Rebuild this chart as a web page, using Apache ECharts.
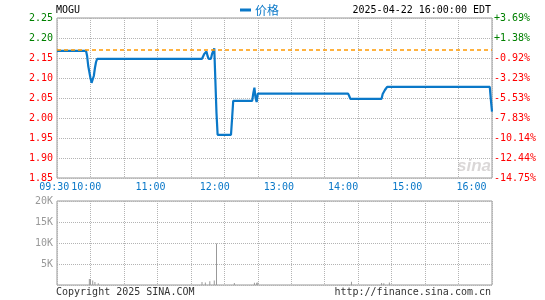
<!DOCTYPE html>
<html>
<head>
<meta charset="utf-8">
<script src="https://cdn.jsdelivr.net/npm/echarts@6/dist/echarts.min.js"></script>
<style>html,body{margin:0;padding:0;background:#fff;}#c{width:545px;height:300px;}</style>
</head>
<body>
<div id="c"></div>
<script>
// ---- data ----
const symbol = 'MOGU';
const stamp = '2025-04-22 16:00:00 EDT';
const prevClose = 2.17;
const priceTimes = ['09:30','09:56','09:57','09:58','09:59','10:00','10:01','10:02','10:03','10:04','10:05','10:06',
  '11:40','11:41','11:42','11:44','11:45','11:46','11:48','11:49','11:51','11:52','11:53','11:54',
  '12:06','12:07','12:08','12:25','12:26','12:27','12:28','12:29','12:30',
  '13:51','13:52','13:53','14:21','14:22','14:23','14:24','14:25','14:26','15:58','15:59','16:00'];
const prices = [2.168,2.168,2.155,2.13,2.115,2.10,2.088,2.092,2.105,2.125,2.14,2.148,
  2.148,2.145,2.16,2.166,2.155,2.148,2.148,2.16,2.174,2.174,2.012,1.958,
  1.958,2.0,2.043,2.043,2.062,2.076,2.05,2.04,2.061,
  2.061,2.055,2.048,2.048,2.06,2.065,2.07,2.072,2.078,2.078,2.045,2.016];
const volTimes = ['09:59','10:00','10:02','10:04','10:07','11:40','11:43','11:47','11:51','11:53','12:09','12:27','12:29','12:30','13:54','14:21','14:23','14:28'];
const volumes  = [1400,1450,1100,700,400,700,600,900,1100,9900,500,550,550,600,750,500,400,600];
const priceTicks = ['1.85','1.90','1.95','2.00','2.05','2.10','2.15','2.20','2.25'];
const pctTicks = ['-14.75%','-12.44%','-10.14%','-7.83%','-5.53%','-3.23%','-0.92%','+1.38%','+3.69%'];
const volTicks = ['','5K','10K','15K','20K'];
const timeTicks = ['09:30','10:00','11:00','12:00','13:00','14:00','15:00','16:00'];

// ---- helpers ----
const mono = "'DejaVu Sans Mono', 'Liberation Mono', monospace";
const toMin = t => { const [h, m] = t.split(':').map(Number); return h * 60 + m - (9 * 60 + 30); };
const priceData = priceTimes.map((t, i) => [toMin(t), prices[i]]);
const volData = volTimes.map((t, i) => [toMin(t), volumes[i]]);
const idx = (v, lo, step) => Math.round((v - lo) / step);
const green = '#008000', red = '#ff0000', blue = '#0a78c8', grey = '#999';
const dotted = { color: '#b4b4b4', width: 1, type: [1, 1] };

const chart = echarts.init(document.getElementById('c'), null, { renderer: 'canvas' });
chart.setOption({
  animation: false,
  title: [
    { text: symbol, left: 56, top: 5, padding: 0, textStyle: { fontFamily: mono, fontSize: 10, fontWeight: 'normal', color: '#000' } },
    { text: stamp, right: 54, top: 5, padding: 0, textStyle: { fontFamily: mono, fontSize: 10, fontWeight: 'normal', color: '#000' } },
    { text: 'Copyright 2025 SINA.COM', left: 56, top: 287, padding: 0, textStyle: { fontFamily: mono, fontSize: 10, fontWeight: 'normal', color: '#333' } },
    { text: 'http://finance.sina.com.cn', right: 54, top: 287, padding: 0, textStyle: { fontFamily: mono, fontSize: 10, fontWeight: 'normal', color: '#333' } }
  ],
  legend: {
    data: ['价格'], left: 240, top: 4, padding: 0, icon: 'rect', itemWidth: 11, itemHeight: 3, itemGap: 4,
    textStyle: { color: blue, fontSize: 12, fontFamily: "'Noto Sans CJK SC', sans-serif", padding: [0, 0, 0, -1] }
  },
  graphic: [
    { type: 'text', right: 54, top: 158, z: 0, style: { text: 'sina', font: 'italic bold 17px sans-serif', fill: 'rgba(150,140,140,0.35)' } }
  ],
  grid: [
    { left: 57, top: 18, width: 435, height: 160, show: true, borderColor: grey, borderWidth: 1 },
    { left: 57, top: 201, width: 435, height: 84, show: true, borderColor: grey, borderWidth: 1 },
    { left: 22.1, top: 18, width: 449.4, height: 160, show: false }
  ],
  xAxis: [
    { type: 'value', gridIndex: 0, min: 0, max: 390, interval: 30, axisLine: { show: false }, axisTick: { show: false },
      axisLabel: { show: false }, splitLine: { show: true, lineStyle: dotted } },
    { type: 'value', gridIndex: 1, min: 0, max: 390, interval: 30, axisLine: { show: false }, axisTick: { show: false },
      axisLabel: { show: false }, splitLine: { show: true, lineStyle: dotted } },
    { type: 'value', gridIndex: 2, min: 0, max: 7, interval: 0.5, axisLine: { show: false }, axisTick: { show: false },
      splitLine: { show: false },
      axisLabel: { show: true, margin: 4, showMinLabel: true, showMaxLabel: true, color: blue, fontFamily: mono, fontSize: 10,
        formatter: v => (v === 0.5 ? timeTicks[0] : (Number.isInteger(v) && v >= 1 ? timeTicks[v] : '')) } }
  ],
  yAxis: [
    { type: 'value', gridIndex: 0, min: 1.85, max: 2.25, interval: 0.05, axisLine: { show: false }, axisTick: { show: false },
      splitLine: { show: true, lineStyle: dotted },
      axisLabel: { margin: 4, fontFamily: mono, fontSize: 10, showMinLabel: true, showMaxLabel: true,
        formatter: v => priceTicks[idx(v, 1.85, 0.05)],
        color: v => (v > prevClose ? green : red) } },
    { type: 'value', gridIndex: 0, position: 'right', min: 1.85, max: 2.25, interval: 0.05, axisLine: { show: false }, axisTick: { show: false },
      splitLine: { show: false },
      axisLabel: { margin: 2, fontFamily: mono, fontSize: 10, showMinLabel: true, showMaxLabel: true,
        formatter: v => pctTicks[idx(v, 1.85, 0.05)],
        color: v => (v > prevClose ? green : red) } },
    { type: 'value', gridIndex: 1, min: 0, max: 20000, interval: 5000, axisLine: { show: false }, axisTick: { show: false },
      splitLine: { show: true, lineStyle: dotted },
      axisLabel: { margin: 4, fontFamily: mono, fontSize: 10, color: grey, showMaxLabel: true,
        formatter: v => volTicks[idx(v, 0, 5000)] } },
    { type: 'value', gridIndex: 2, show: false }
  ],
  series: [
    { name: '价格', type: 'line', xAxisIndex: 0, yAxisIndex: 0, data: priceData, symbol: 'none', z: 3,
      lineStyle: { color: blue, width: 2.2 }, itemStyle: { color: blue },
      markLine: { silent: true, symbol: ['none', 'none'], label: { show: false }, z: 4,
        lineStyle: { color: '#ff9900', type: [4, 3], width: 1.5 }, data: [{ yAxis: prevClose }] } },
    { name: 'vol', type: 'bar', xAxisIndex: 1, yAxisIndex: 2, data: volData, barWidth: 1, itemStyle: { color: grey } }
  ]
});
</script>
</body>
</html>
